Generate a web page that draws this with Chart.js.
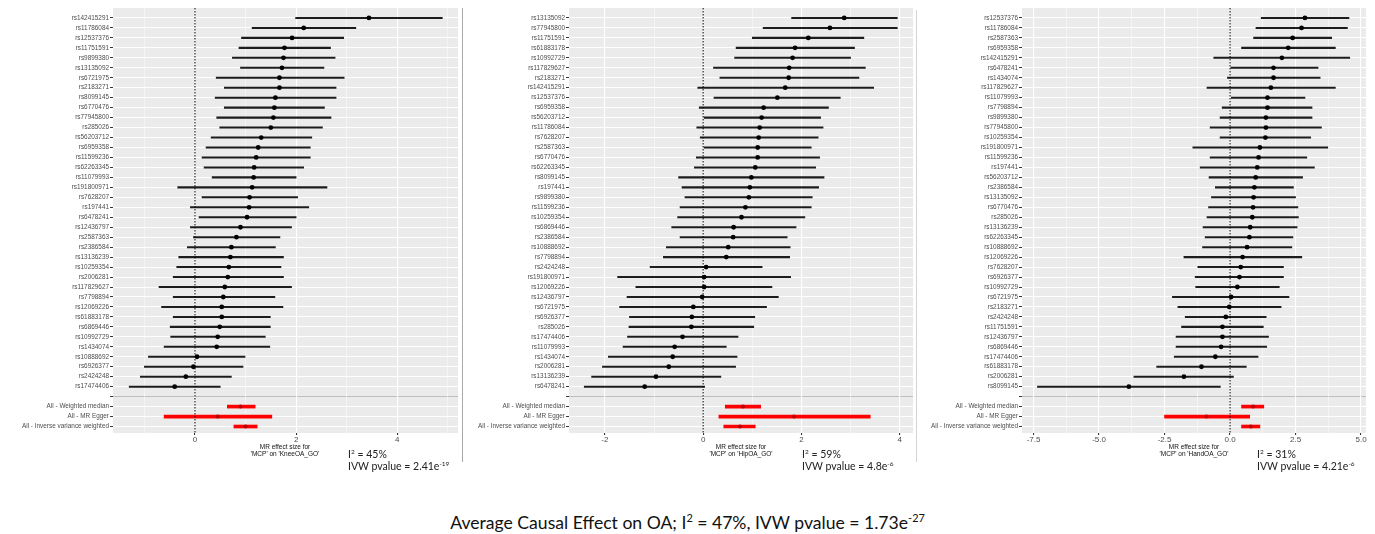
<!DOCTYPE html>
<html>
<head>
<meta charset="utf-8">
<script src="https://cdn.jsdelivr.net/npm/chart.js@4.4.1/dist/chart.umd.min.js"></script>
<style>
body{margin:0;background:#fff;width:1375px;height:534px;position:relative;overflow:hidden;font-family:"Liberation Sans",Arial,sans-serif;}
canvas{position:absolute;top:0;}
.ax{position:absolute;width:200px;font-size:6.5px;line-height:7px;color:#111;text-align:center;}
.stat{position:absolute;font-family:Lato,"Open Sans",sans-serif;font-size:10.5px;line-height:11px;color:#222;white-space:nowrap;}
.stat sup,.foot sup{font-size:0.62em;line-height:0;vertical-align:super;}
.foot{position:absolute;left:0;top:513px;width:1375px;text-align:center;font-family:Lato,"Open Sans",sans-serif;font-size:17.6px;line-height:20px;color:#111;}
.sep{position:absolute;width:1px;}
</style>
</head>
<body>
<canvas id="kneeChart" width="462" height="459" style="left:0px"></canvas>
<canvas id="hipChart" width="447" height="459" style="left:470px"></canvas>
<canvas id="handChart" width="450" height="459" style="left:920px"></canvas>

<div class="sep" style="left:462px;top:8px;height:454px;background:#a8a8a8"></div>
<div class="sep" style="left:916px;top:10px;height:452px;background:#d4d4d4"></div>

<div class="ax" style="left:185px;top:443px">MR effect size for<br>'MCP' on 'KneeOA_GO'</div>
<div class="ax" style="left:641px;top:443px">MR effect size for<br>'MCP' on 'HipOA_GO'</div>
<div class="ax" style="left:1094px;top:443px">MR effect size for<br>'MCP' on 'HandOA_GO'</div>

<div class="stat" style="left:348px;top:449px">I<sup>2</sup> = 45%</div>
<div class="stat" style="left:348px;top:461px">IVW pvalue = 2.41e<sup>-19</sup></div>
<div class="stat" style="left:802px;top:449px">I<sup>2</sup> = 59%</div>
<div class="stat" style="left:802px;top:461px">IVW pvalue = 4.8e<sup>-6</sup></div>
<div class="stat" style="left:1257px;top:449px">I<sup>2</sup> = 31%</div>
<div class="stat" style="left:1257px;top:461px">IVW pvalue = 4.21e<sup>-6</sup></div>

<div class="foot">Average Causal Effect on OA; I<sup>2</sup> = 47%, IVW pvalue = 1.73e<sup>-27</sup></div>

<script>
Chart.defaults.font.family = "'Liberation Sans', Arial, sans-serif";

const summaryLabels = ["All - Weighted median", "All - MR Egger", "All - Inverse variance weighted"];

// Knee
const kneeSnps = ["rs142415291","rs11786084","rs12537376","rs11751591","rs9899380","rs13135092","rs6721975","rs2183271","rs8099145","rs6770476","rs77945800","rs285026","rs56203712","rs6959358","rs11599236","rs62263345","rs11079993","rs191800971","rs7628207","rs197441","rs6478241","rs12436797","rs2587363","rs2386584","rs13136239","rs10259354","rs2006281","rs117829627","rs7798894","rs12069226","rs61883178","rs6869446","rs10992729","rs1434074","rs10888692","rs6926377","rs2424248","rs17474406"];
const kneeEst = [3.44,2.15,1.92,1.77,1.75,1.72,1.67,1.67,1.59,1.57,1.55,1.50,1.31,1.25,1.21,1.17,1.16,1.13,1.08,1.07,1.03,0.90,0.82,0.72,0.70,0.67,0.65,0.59,0.56,0.53,0.53,0.49,0.45,0.43,0.04,-0.03,-0.18,-0.40];
const kneeLo = [1.99,1.13,0.92,0.87,0.74,0.90,0.42,0.58,0.40,0.58,0.43,0.49,0.32,0.22,0.14,0.18,0.34,-0.34,0.14,-0.09,0.08,-0.09,-0.03,-0.15,-0.32,-0.36,-0.43,-0.71,-0.43,-0.66,-0.43,-0.49,-0.48,-0.61,-0.92,-1.00,-1.08,-1.30];
const kneeHi = [4.89,3.18,2.94,2.68,2.77,2.55,2.95,2.79,2.79,2.56,2.69,2.52,2.31,2.28,2.28,2.15,2.00,2.61,2.03,2.25,2.00,1.91,1.68,1.59,1.75,1.70,1.75,1.91,1.58,1.74,1.49,1.49,1.39,1.48,0.99,0.95,0.72,0.50];
const kneeSumEst = [0.90, 0.45, 1.00];
const kneeSumLo = [0.64, -0.61, 0.77];
const kneeSumHi = [1.19, 1.52, 1.23];
const kneeTicks = [0, 2, 4];
const kneeMinor = [-1, 1, 3, 5];

// Hip
const hipSnps = ["rs13135092","rs77945800","rs11751591","rs61883178","rs10992729","rs117829627","rs2183271","rs142415291","rs12537376","rs6959358","rs56203712","rs11786084","rs7628207","rs2587363","rs6770476","rs62263345","rs8099145","rs197441","rs9899380","rs11599236","rs10259354","rs6869446","rs2386584","rs10888692","rs7798894","rs2424248","rs191800971","rs12069226","rs12436797","rs6721975","rs6926377","rs285026","rs17474406","rs11079993","rs1434074","rs2006281","rs13136239","rs6478241"];
const hipEst = [2.87,2.58,2.14,1.87,1.82,1.75,1.74,1.67,1.51,1.23,1.19,1.15,1.13,1.11,1.11,1.06,0.98,0.95,0.93,0.86,0.78,0.62,0.61,0.51,0.47,0.06,0.02,0.02,-0.02,-0.20,-0.23,-0.24,-0.42,-0.58,-0.62,-0.70,-0.96,-1.19];
const hipLo = [1.80,1.22,1.00,0.67,0.64,0.21,0.34,-0.11,0.22,-0.08,0.02,-0.13,-0.06,0.02,-0.14,-0.18,-0.50,-0.43,-0.37,-0.47,-0.52,-0.64,-0.47,-0.75,-0.81,-1.08,-1.74,-1.37,-1.55,-1.70,-1.50,-1.51,-1.54,-1.63,-1.93,-2.05,-2.27,-2.42];
const hipHi = [3.95,3.95,3.27,3.08,3.00,3.30,3.17,3.47,2.79,2.55,2.39,2.44,2.34,2.20,2.37,2.29,2.46,2.35,2.22,2.20,2.07,1.89,1.71,1.77,1.76,1.20,1.78,1.40,1.53,1.29,1.05,1.03,0.71,0.47,0.69,0.66,0.36,0.03];
const hipSumEst = [0.81, 1.85, 0.75];
const hipSumLo = [0.45, 0.32, 0.42];
const hipSumHi = [1.17, 3.40, 1.06];
const hipTicks = [-2, 0, 2, 4];
const hipMinor = [-1, 1, 3];

// Hand
const handSnps = ["rs12537376","rs11786084","rs2587363","rs6959358","rs142415291","rs6478241","rs1434074","rs117829627","rs11079993","rs7798894","rs9899380","rs77945800","rs10259354","rs191800971","rs11599236","rs197441","rs56203712","rs2386584","rs13135092","rs6770476","rs285026","rs13136239","rs62263345","rs10888692","rs12069226","rs7628207","rs6926377","rs10992729","rs6721975","rs2183271","rs2424248","rs11751591","rs12436797","rs6869446","rs17474406","rs61883178","rs2006281","rs8099145"];
const handEst = [2.86,2.73,2.39,2.22,1.98,1.66,1.66,1.56,1.43,1.43,1.37,1.37,1.35,1.14,1.09,1.04,0.98,0.93,0.90,0.88,0.85,0.77,0.74,0.65,0.48,0.41,0.36,0.28,0.04,-0.03,-0.16,-0.29,-0.29,-0.34,-0.56,-1.09,-1.76,-3.86];
const handLo = [1.19,0.99,0.90,0.44,-0.62,0.03,-0.10,-0.88,0.05,-0.30,-0.38,-0.76,-0.38,-1.42,-0.76,-1.14,-0.80,-0.56,-0.71,-0.82,-0.88,-1.03,-0.95,-1.05,-1.76,-1.23,-1.33,-1.31,-2.20,-1.99,-1.71,-1.85,-2.06,-2.06,-2.13,-2.80,-3.67,-7.35];
const handHi = [4.54,4.48,3.88,4.02,4.57,3.36,3.44,4.02,2.86,3.13,3.13,3.49,3.08,3.73,2.93,3.22,2.77,2.42,2.50,2.59,2.61,2.56,2.40,2.36,2.74,2.04,2.04,1.88,2.25,1.95,1.38,1.27,1.47,1.40,1.07,0.62,0.13,-0.37];
const handSumEst = [0.88, -0.90, 0.79];
const handSumLo = [0.44, -2.50, 0.44];
const handSumHi = [1.29, 0.75, 1.14];
const handTicks = [-7.5, -5, -2.5, 0, 2.5, 5];
const handMinor = [-6.25, -3.75, -1.25, 1.25, 3.75];

const yTop = 42.65;

const panelBg = {
    id: 'panelBg',
    beforeDraw(chart) {
        const {ctx, chartArea: a} = chart;
        ctx.save();
        ctx.fillStyle = '#EBEBEB';
        ctx.fillRect(a.left, a.top, a.right - a.left, a.bottom - a.top);
        ctx.restore();
    }
};

function makePanel(id, snps, est, lo, hi, sEst, sLo, sHi, ticks, minor, xMin, xMax, yWidth, padRight, fmt) {
    const rowLabels = snps.concat([""], summaryLabels);
    const rowVals = rowLabels.map((l, i) => i + 1);
    const sumRow = (j) => snps.length + 2 + j;
    const isMajor = (v) => ticks.some(t => Math.abs(t - v) < 1e-6);
    const allTicks = ticks.concat(minor).sort((a, b) => a - b);

    const config = {
        type: 'bar',
        data: {
            datasets: [
                {
                    data: snps.map((s, i) => ({y: i + 1, x: [lo[i], hi[i]]})),
                    backgroundColor: '#1c1c1c',
                    barThickness: 1.4,
                    grouped: false,
                    order: 3,
                },
                {
                    data: sEst.map((v, j) => ({y: sumRow(j), x: [sLo[j], sHi[j]]})),
                    backgroundColor: '#FF0000',
                    barThickness: 3,
                    grouped: false,
                    order: 2,
                },
                {
                    type: 'scatter',
                    data: [{x: 0, y: 0}, {x: 0, y: yTop}],
                    showLine: true,
                    borderColor: '#000',
                    borderWidth: 1,
                    borderDash: [1.5, 1.5],
                    pointRadius: 0,
                    order: 1,
                },
                {
                    type: 'scatter',
                    data: est.map((v, i) => ({x: v, y: i + 1})),
                    pointRadius: 2.4,
                    backgroundColor: '#000',
                    borderWidth: 0,
                    order: 0,
                },
                {
                    type: 'scatter',
                    data: sEst.map((v, j) => ({x: v, y: sumRow(j)})),
                    pointRadius: 2,
                    backgroundColor: '#B80000',
                    borderWidth: 0,
                    order: 0,
                },
            ],
        },
        options: {
            indexAxis: 'y',
            responsive: false,
            animation: false,
            devicePixelRatio: 1,
            layout: { padding: { top: 8, right: padRight, left: 0, bottom: 0 } },
            plugins: {
                legend: { display: false },
                tooltip: { enabled: false },
            },
            scales: {
                y: {
                    type: 'linear',
                    reverse: true,
                    offset: false,
                    min: 0,
                    max: yTop,
                    afterBuildTicks: (axis) => { axis.ticks = rowVals.map(v => ({value: v})); },
                    afterFit: (scale) => { scale.width = yWidth; },
                    ticks: {
                        autoSkip: false,
                        padding: 1,
                        color: '#4D4D4D',
                        font: { size: 6.4 },
                        callback: (value, index) => rowLabels[index],
                    },
                    grid: {
                        offset: false,
                        color: (ctx) => (ctx.tick && ctx.tick.value === snps.length + 1) ? '#BEBEBE' : '#FFFFFF',
                        lineWidth: 1,
                        tickLength: 3,
                        tickColor: '#333',
                    },
                    border: { display: false },
                },
                x: {
                    type: 'linear',
                    min: xMin,
                    max: xMax,
                    afterBuildTicks: (axis) => { axis.ticks = allTicks.map(v => ({value: v})); },
                    afterFit: (scale) => { scale.height = 26; },
                    ticks: {
                        autoSkip: false,
                        maxRotation: 0,
                        padding: 0,
                        color: '#4D4D4D',
                        font: { size: 8 },
                        callback: (value) => isMajor(value) ? fmt(value) : '',
                    },
                    grid: {
                        color: '#FFFFFF',
                        lineWidth: (ctx) => (ctx.tick && isMajor(ctx.tick.value)) ? 1.1 : 0.5,
                        tickLength: 2,
                        tickColor: (ctx) => (ctx.tick && isMajor(ctx.tick.value)) ? '#333' : 'rgba(0,0,0,0)',
                    },
                    border: { display: false },
                },
            },
        },
        plugins: [panelBg],
    };
    return new Chart(document.getElementById(id).getContext('2d'), config);
}

const kneeChart = makePanel('kneeChart', kneeSnps, kneeEst, kneeLo, kneeHi, kneeSumEst, kneeSumLo, kneeSumHi,
    kneeTicks, kneeMinor, -1.62, 5.2, 113, 4, v => String(v));
const hipChart = makePanel('hipChart', hipSnps, hipEst, hipLo, hipHi, hipSumEst, hipSumLo, hipSumHi,
    hipTicks, hipMinor, -2.73, 4.27, 99, 4, v => String(v));
const handChart = makePanel('handChart', handSnps, handEst, handLo, handHi, handSumEst, handSumLo, handSumHi,
    handTicks, handMinor, -7.94, 5.19, 102, 3, v => v.toFixed(1));
</script>
</body>
</html>
